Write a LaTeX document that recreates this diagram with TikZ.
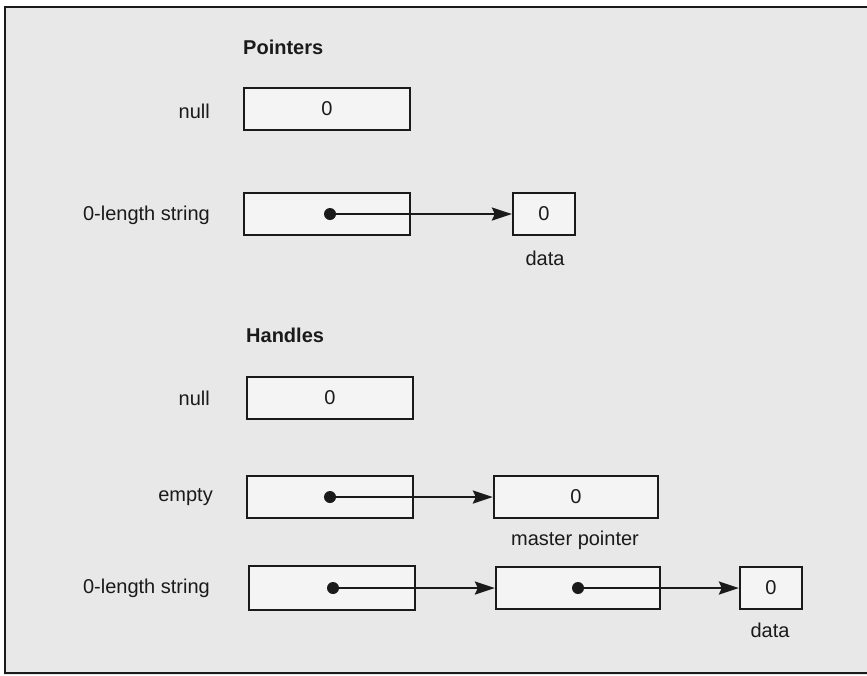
\documentclass[tikz,border=0pt]{standalone}
\usepackage{fontspec}
\setmainfont{Liberation Sans}
\usetikzlibrary{arrows.meta}
\definecolor{bgc}{HTML}{E8E8E8}
\definecolor{boxc}{HTML}{F4F4F4}
\definecolor{ink}{HTML}{1A1A1A}
\begin{document}
\begin{tikzpicture}[x=1pt,y=-1pt,
  font=\fontsize{20}{24}\selectfont, text=ink,
  cell/.style={draw=ink, line width=2.3pt, fill=boxc, minimum width=166pt, minimum height=42pt, inner sep=0pt, anchor=center},
  small/.style={cell, minimum width=62pt},
  lbl/.style={anchor=east, inner sep=0pt},
  head/.style={anchor=west, inner sep=0pt, font=\fontsize{20}{24}\selectfont\bfseries},
  dotn/.style={circle, fill=ink, inner sep=0pt, minimum size=12pt},
  ptr/.style={draw=ink, line width=2.5pt, -{Stealth[length=20pt,width=13pt,inset=3pt]}, shorten <=-5pt}
]
\useasboundingbox (0,0) rectangle (867,675);
\fill[bgc] (0,0) rectangle (867,675);
\fill[white] (0,0) rectangle (867,6);
\fill[white] (0,0) rectangle (4,675);
\draw[ink, line width=2pt] (870,7) -- (5,7) -- (5,673) -- (870,673);

% Pointers
\node[head] (hp) at (243,47) {Pointers};
\node[cell] (pnull) at (327,109) {0};
\node[lbl] (lpnull) at (210,111) {null};
\node[cell] (pstr) at (327,214) {};
\node[lbl] (lpstr) at (210,215) {0-length string};
\node[dotn] (pd) at (330,214) {};
\node[small] (pdata) at (544,214) {0};
\node (lpdata) at (545,258) {data};
\draw[ptr] (pd) -- (pdata);

% Handles
\node[head] (hh) at (246,335) {Handles};
\node[cell] (hnull) at (330,398) {0};
\node[lbl] (lhnull) at (210,398) {null};
\node[cell] (hempty) at (330,497) {};
\node[lbl] (lhempty) at (213,497) {empty};
\node[dotn] (hed) at (330,497) {};
\node[cell, minimum width=164pt] (hmp) at (576,497) {0};
\node (lhmp) at (575,540) {master pointer};
\draw[ptr] (hed) -- (hmp);

\node[cell, minimum height=44pt] (hstr) at (332,588) {};
\node[lbl] (lhstr) at (210,588) {0-length string};
\node[dotn] (hsd) at (333,588) {};
\node[cell, minimum width=164pt] (hmid) at (578,588) {};
\node[dotn] (hmd) at (578,588) {};
\node[small] (hdata) at (771,588) {0};
\node (lhdata) at (770,630) {data};
\draw[ptr] (hsd) -- (hmid);
\draw[ptr] (hmd) -- (hdata);
\end{tikzpicture}
\end{document}
